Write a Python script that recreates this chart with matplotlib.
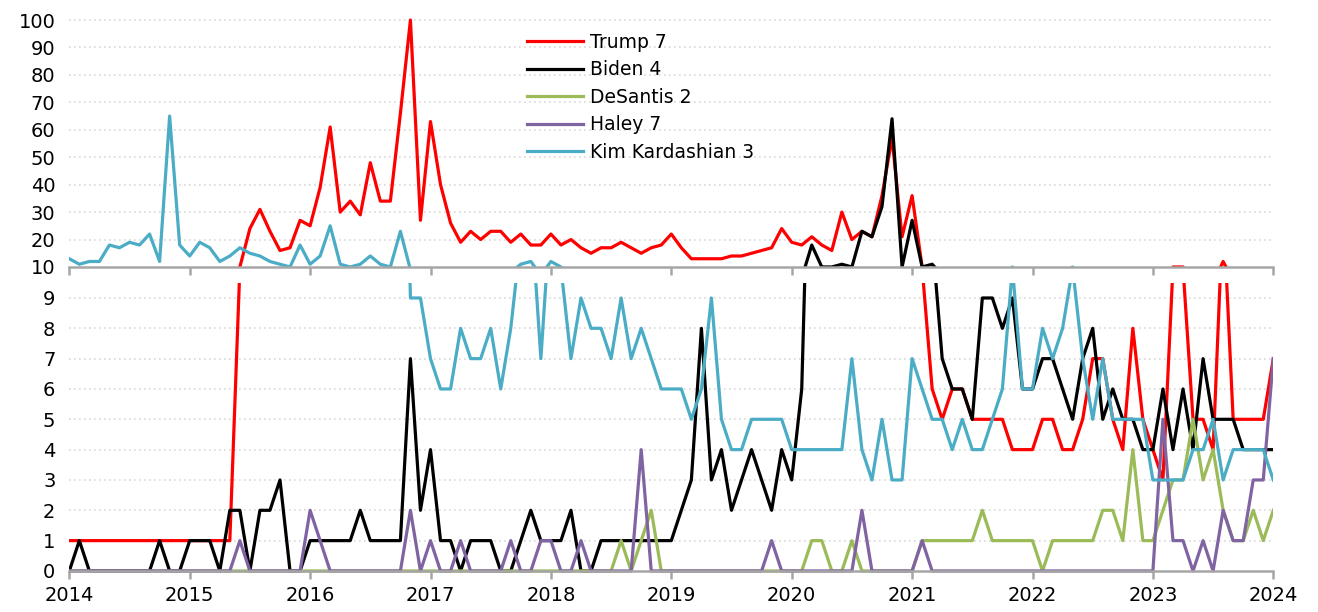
import matplotlib
matplotlib.use("Agg")
import matplotlib.pyplot as plt
import numpy as np

# Monthly values, Jan 2014 .. Jan 2024 (121 points)
trump = [1]*17 + [10, 24, 31, 23, 16, 17, 27, 25, 39, 61, 30, 34, 29, 48, 34, 34, 66, 100,
         27, 63, 40, 26, 19, 23, 20, 23, 23, 19, 22, 18, 18, 22, 18, 20, 17, 15, 17, 17,
         19, 17, 15, 17, 18, 22, 17, 13, 13, 13, 13, 14, 14, 15, 16, 17, 24, 19, 18, 21,
         18, 16, 30, 20, 23, 21, 36, 57, 21, 36, 10, 6, 5, 6, 6, 5, 5, 5, 5, 4, 4, 4, 5,
         5, 4, 4, 5, 7, 7, 5, 4, 8, 5, 4, 3, 10, 10, 5, 5, 4, 12, 5, 5, 5, 5, 7]
biden = [0, 1, 0, 0, 0, 0, 0, 0, 0, 1, 0, 0, 1, 1, 1, 0, 2, 2, 0, 2, 2, 3, 0, 0, 1, 1, 1, 1,
         1, 2, 1, 1, 1, 1, 7, 2, 4, 1, 1, 0, 1, 1, 1, 0, 0, 1, 2, 1, 1, 1, 2, 0, 0, 1, 1, 1,
         1, 1, 1, 1, 1, 2, 3, 8, 3, 4, 2, 3, 4, 3, 2, 4, 3, 6, 18, 10, 10, 11, 10, 23, 21,
         32, 64, 10, 27, 10, 11, 7, 6, 6, 5, 9, 9, 8, 9, 6, 6, 7, 7, 6, 5, 7, 8, 5, 6, 5, 5,
         4, 4, 6, 4, 6, 4, 7, 5, 5, 5, 4, 4, 4, 4]
desantis = [0]*55 + [1, 0, 1, 2] + [0]*15 + [1, 1, 0, 0, 1] + [0]*6 + [1, 1, 1, 1, 1, 1, 2,
            1, 1, 1, 1, 1, 0, 1, 1, 1, 1, 1, 2, 2, 1, 4, 1, 1, 2, 3, 3, 5, 3, 4, 2, 1, 1, 2,
            1, 2]
haley = [0]*17 + [1] + [0]*6 + [2, 1] + [0]*8 + [2, 0, 1, 0, 0, 1, 0, 0, 0, 0, 1, 0, 0, 1,
         1, 0, 0, 1, 0, 0, 0, 0, 0, 4] + [0]*12 + [1] + [0]*8 + [2] + [0]*5 + [1] + [0]*23 + \
        [5, 1, 1, 0, 1, 0, 2, 1, 1, 3, 3, 7]
kim = [13, 11, 12, 12, 18, 17, 19, 18, 22, 12, 65, 18, 14, 19, 17, 12, 14, 17, 15, 14, 12,
       11, 10, 18, 11, 14, 25, 11, 10, 11, 14, 11, 10, 23, 9, 9, 7, 6, 6, 8, 7, 7, 8, 6, 8,
       11, 12, 7, 12, 10, 7, 9, 8, 8, 7, 9, 7, 8, 7, 6, 6, 6, 5, 6, 9, 5, 4, 4, 5, 5, 5, 5,
       4, 4, 4, 4, 4, 4, 7, 4, 3, 5, 3, 3, 7, 6, 5, 5, 4, 5, 4, 4, 5, 6, 10, 6, 6, 8, 7, 8,
       10, 7, 5, 7, 5, 5, 5, 5, 3, 3, 3, 3, 4, 4, 5, 3, 4, 4, 4, 4, 3]

labels = ["Trump 7", "Biden 4", "DeSantis 2", "Haley 7", "Kim Kardashian 3"]
colors = ["#FF0000", "#000000", "#9BBB59", "#8064A2", "#4BACC6"]
series = [trump, biden, desantis, haley, kim]
years = list(range(2014, 2025))

for s in series:
    assert len(s) == 121, len(s)

x = 2014 + np.arange(121) / 12.0

plt.rcParams['font.family'] = ['DejaVu Sans']
fig = plt.figure(figsize=(13.18, 6.12), dpi=100)
L, W = 69.3 / 1318, 1204 / 1318
ax_top = fig.add_axes([L, 0.5631, W, 0.4087])
ax_bot = fig.add_axes([L, 0.0621, W, 0.4758])

grid_c = "#D9D9D9"
spine_c = "#A6A6A6"

for ax, ylo, yhi, base, yt in [(ax_top, 9.85, 101, 10, range(10, 101, 10)),
                                (ax_bot, -0.1, 9.5, 0, range(0, 10))]:
    handles = []
    for s, c, lab in zip(series, colors, labels):
        h, = ax.plot(x, s, color=c, lw=2.3, label=lab, solid_joinstyle='round')
        handles.append(h)
    ax.set_xlim(2014, 2024)
    ax.set_ylim(ylo, yhi)
    ax.set_yticks(list(yt))
    for v in yt:
        if v != base:
            ax.axhline(v, color=grid_c, lw=1.2, ls=(0, (1, 2)), zorder=0)
    for sp in ['top', 'right', 'left']:
        ax.spines[sp].set_visible(False)
    ax.spines['bottom'].set_position(('data', base))
    ax.spines['bottom'].set_color(spine_c)
    ax.spines['bottom'].set_linewidth(1.8)
    ax.set_xticks(years)
    ax.tick_params(axis='x', direction='out', length=6, width=1.8, color=spine_c,
                   labelsize=14, pad=5)
    ax.tick_params(axis='y', length=0, labelsize=14, pad=10)
    ax.patch.set_visible(False)

ax_top.tick_params(axis='x', labelbottom=False)

fig.legend(handles, labels, loc='upper left', bbox_to_anchor=(527 / 1318, 1 - 33 / 612),
           frameon=False, fontsize=13.5, handlelength=3.0, handletextpad=0.35,
           labelspacing=0.45, borderpad=0, borderaxespad=0)

fig.savefig("out.png", dpi=100)
